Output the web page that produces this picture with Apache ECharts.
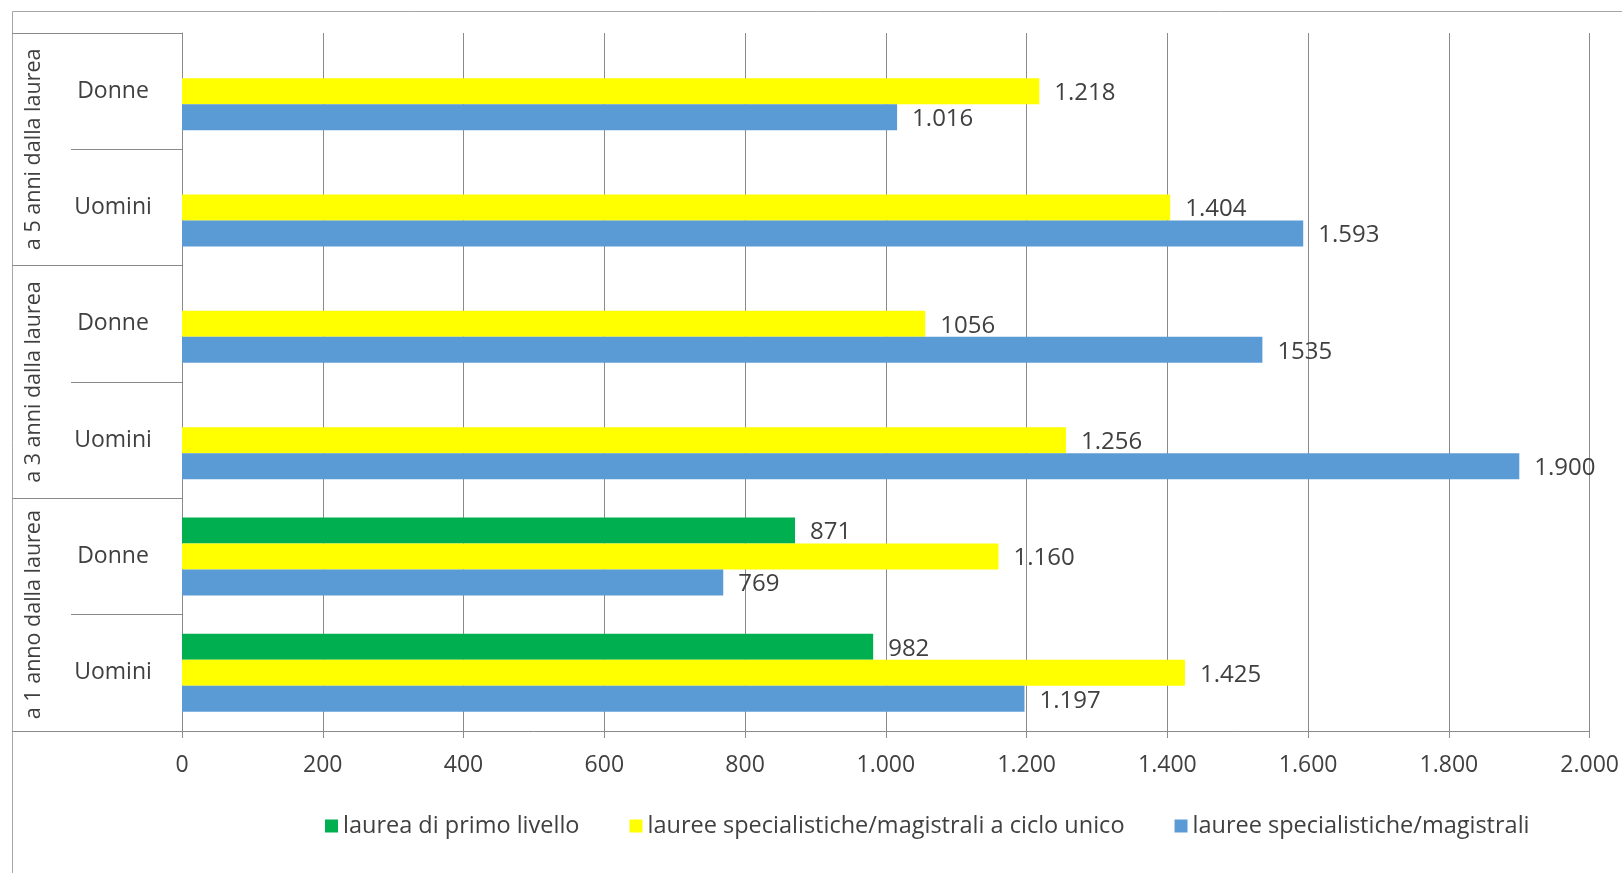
<!DOCTYPE html>
<html>
<head>
<meta charset="utf-8">
<script src="https://cdn.jsdelivr.net/npm/echarts@6/dist/echarts.min.js"></script>
<style>
html,body{margin:0;padding:0;background:#fff;}
#c{width:1622px;height:873px;}
</style>
</head>
<body>
<div id="c"></div>
<script>
// Categories (bottom to top, as drawn by the category axis)
const categories = ["Uomini", "Donne", "Uomini", "Donne", "Uomini", "Donne"];
const groups = ["a 1 anno dalla laurea", "a 3 anni dalla laurea", "a 5 anni dalla laurea"];
const seriesNames = ["laurea di primo livello", "lauree specialistiche/magistrali a ciclo unico", "lauree specialistiche/magistrali"];

// Values
const primoLivello = [982, 871, null, null, null, null];
const cicloUnico = [1425, 1160, 1256, 1056, 1404, 1218];
const magistrali = [1197, 769, 1900, 1535, 1593, 1016];

// Data label texts as printed in the chart
const primoLabels = ["982", "871", "", "", "", ""];
const cicloLabels = ["1.425", "1.160", "1.256", "1056", "1.404", "1.218"];
const magistraliLabels = ["1.197", "769", "1.900", "1535", "1.593", "1.016"];

// Value axis
const xMin = 0, xMax = 2000, xStep = 200;

const FONT = "'Open Sans', Lato, sans-serif";
const TXT = "#404040";
const LINE = "#8a8a8a";

function fmt(v) { return String(v).replace(/\B(?=(\d{3})+(?!\d))/g, "."); }

const chart = echarts.init(document.getElementById("c"), null, {renderer: "canvas"});

function labelCfg(arr) {
  return {
    show: true, position: "right", distance: 15, offset: [0, 2],
    fontSize: 24, fontFamily: FONT, color: TXT,
    formatter: p => arr[p.dataIndex]
  };
}

const option = {
  backgroundColor: "#ffffff",
  animation: false,
  textStyle: {fontFamily: FONT},
  graphic: [{
    type: "rect", silent: true, z: -10,
    shape: {x: 12.5, y: 11.5, width: 3000, height: 3000},
    style: {fill: "none", stroke: "#a6a6a6", lineWidth: 1}
  }],
  grid: {left: 182, right: 31, top: 33, bottom: 142, containLabel: false},
  legend: {
    top: 809, left: 320,
    itemWidth: 13, itemHeight: 13, itemGap: 50,
    icon: "rect",
    data: seriesNames,
    textStyle: {fontSize: 23.5, fontFamily: FONT, color: TXT}
  },
  xAxis: {
    type: "value", min: xMin, max: xMax, interval: xStep,
    axisLine: {show: true, lineStyle: {color: LINE, width: 1}},
    axisTick: {show: true, length: 7, lineStyle: {color: LINE}},
    splitLine: {show: true, lineStyle: {color: LINE, width: 1}},
    axisLabel: {fontSize: 23, fontFamily: FONT, color: TXT, margin: 23, formatter: v => fmt(v)}
  },
  yAxis: [{
    type: "category", data: categories, position: "left",
    axisLine: {show: true, lineStyle: {color: LINE, width: 1}},
    axisTick: {show: true, length: 111, interval: 0, lineStyle: {color: LINE}},
    axisLabel: {fontSize: 23, fontFamily: FONT, color: TXT, margin: 69, align: "center",
                interval: 0, padding: [7, 0, 0, 0]},
    splitLine: {show: false}
  }, {
    type: "category", data: groups, position: "left", offset: 111,
    axisLine: {show: false},
    axisTick: {show: true, length: 59, interval: 0, lineStyle: {color: LINE}},
    axisLabel: {fontSize: 21.5, fontFamily: FONT, color: TXT, margin: 37, rotate: 90,
                align: "center", verticalAlign: "middle", interval: 0},
    splitLine: {show: false}
  }],
  series: [{
    name: seriesNames[0], type: "bar", yAxisIndex: 0, data: primoLivello,
    barWidth: 26, barGap: "0%",
    itemStyle: {color: "#00B050"}, label: labelCfg(primoLabels)
  }, {
    name: seriesNames[1], type: "bar", yAxisIndex: 0, data: cicloUnico,
    barWidth: 26, barGap: "0%",
    itemStyle: {color: "#FFFF00"}, label: labelCfg(cicloLabels)
  }, {
    name: seriesNames[2], type: "bar", yAxisIndex: 0, data: magistrali,
    barWidth: 26, barGap: "0%",
    itemStyle: {color: "#5B9BD5"}, label: labelCfg(magistraliLabels)
  }]
};
chart.setOption(option);
</script>
</body>
</html>
